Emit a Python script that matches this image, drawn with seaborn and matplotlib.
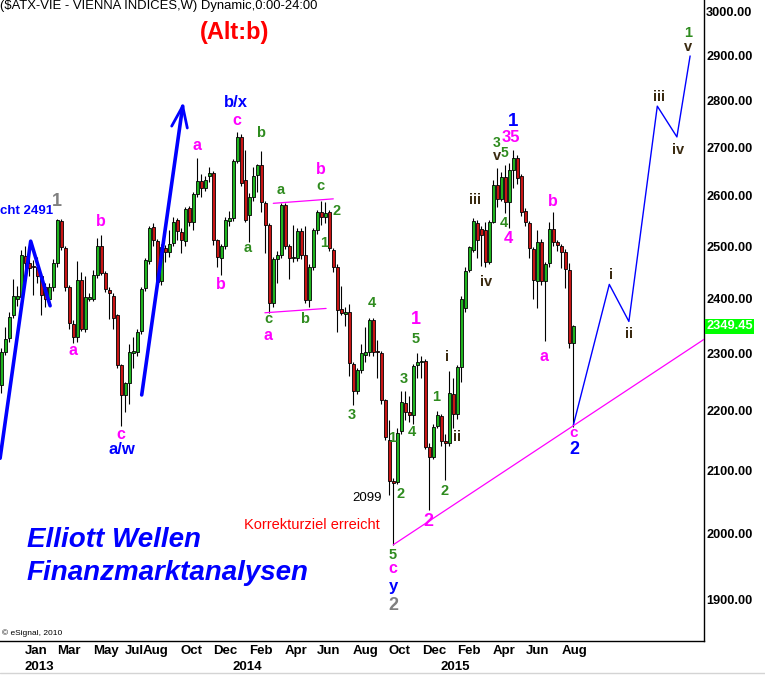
import numpy as np
import pandas as pd
import seaborn as sns
import matplotlib.pyplot as plt
from matplotlib.transforms import blended_transform_factory
from matplotlib.lines import Line2D
from matplotlib.ticker import NullLocator

sns.set_theme(style='white')
plt.rcParams['font.family'] = ['Liberation Sans', 'DejaVu Sans']

# weekly ATX candles, first bar = week of 26 Nov 2012
opens = [2244, 2303, 2328, 2370, 2400, 2404, 2481, 2468, 2462, 2460, 2442, 2423, 2400, 2422, 2468, 2550,
         2496, 2422, 2353, 2329, 2436, 2345, 2400, 2400, 2445, 2500, 2449, 2416, 2405, 2370, 2280, 2227,
         2248, 2300, 2302, 2340, 2420, 2472, 2537, 2511, 2433, 2496, 2488, 2506, 2551, 2528, 2510, 2576,
         2547, 2603, 2630, 2616, 2640, 2647, 2512, 2477, 2500, 2550, 2555, 2672, 2722, 2632, 2562, 2598,
         2643, 2663, 2586, 2542, 2392, 2475, 2483, 2582, 2500, 2478, 2478, 2529, 2483, 2398, 2461, 2531,
         2567, 2558, 2567, 2493, 2461, 2381, 2372, 2375, 2281, 2233, 2271, 2298, 2303, 2360, 2304, 2301,
         2218, 2150, 2083, 2081, 2165, 2213, 2198, 2193, 2280, 2285, 2287, 2138, 2122, 2174, 2190, 2148,
         2145, 2229, 2195, 2276, 2382, 2455, 2493, 2546, 2533, 2531, 2470, 2548, 2623, 2594, 2638, 2588,
         2653, 2678, 2640, 2570, 2546, 2494, 2434, 2509, 2434, 2467, 2533, 2509, 2500, 2489, 2454, 2318]
highs = [2310, 2348, 2376, 2437, 2424, 2492, 2500, 2490, 2474, 2480, 2448, 2430, 2430, 2475, 2553, 2553,
         2500, 2425, 2360, 2472, 2450, 2442, 2410, 2454, 2516, 2522, 2452, 2423, 2410, 2372, 2282, 2250,
         2317, 2330, 2345, 2423, 2478, 2540, 2545, 2515, 2505, 2502, 2532, 2558, 2556, 2535, 2577, 2580,
         2608, 2677, 2645, 2640, 2660, 2650, 2515, 2505, 2558, 2570, 2676, 2732, 2728, 2695, 2605, 2660,
         2666, 2693, 2590, 2545, 2480, 2490, 2586, 2586, 2505, 2542, 2535, 2535, 2540, 2465, 2536, 2572,
         2590, 2588, 2572, 2497, 2465, 2424, 2385, 2390, 2285, 2275, 2317, 2348, 2365, 2365, 2324, 2305,
         2220, 2184, 2088, 2170, 2233, 2233, 2225, 2282, 2300, 2295, 2290, 2145, 2178, 2200, 2195, 2160,
         2268, 2256, 2280, 2405, 2460, 2500, 2555, 2552, 2540, 2547, 2552, 2632, 2657, 2648, 2663, 2667,
         2695, 2685, 2645, 2575, 2550, 2498, 2532, 2515, 2470, 2548, 2568, 2512, 2505, 2495, 2467, 2352]
lows = [2231, 2298, 2320, 2365, 2386, 2400, 2442, 2442, 2407, 2430, 2370, 2385, 2388, 2415, 2460, 2492,
        2415, 2345, 2318, 2320, 2340, 2338, 2395, 2395, 2440, 2445, 2412, 2362, 2344, 2275, 2173, 2198,
        2211, 2274, 2295, 2335, 2415, 2465, 2500, 2425, 2425, 2470, 2480, 2500, 2512, 2487, 2500, 2540,
        2532, 2598, 2598, 2610, 2628, 2502, 2460, 2445, 2495, 2540, 2550, 2668, 2620, 2548, 2509, 2590,
        2608, 2568, 2487, 2374, 2385, 2430, 2478, 2495, 2438, 2470, 2472, 2475, 2392, 2384, 2455, 2525,
        2542, 2545, 2490, 2451, 2338, 2370, 2350, 2260, 2210, 2228, 2265, 2285, 2296, 2296, 2256, 2212,
        2150, 2060, 1982, 2078, 2160, 2184, 2180, 2178, 2256, 2256, 2135, 2037, 2118, 2170, 2140, 2085,
        2140, 2170, 2185, 2250, 2375, 2450, 2488, 2477, 2462, 2461, 2465, 2545, 2578, 2590, 2566, 2535,
        2615, 2625, 2560, 2540, 2478, 2400, 2382, 2425, 2323, 2460, 2500, 2490, 2458, 2421, 2310, 2172]
closes = [2303, 2326, 2367, 2405, 2405, 2483, 2468, 2459, 2460, 2442, 2407, 2400, 2422, 2467, 2551, 2499,
          2423, 2355, 2329, 2436, 2345, 2404, 2404, 2445, 2501, 2449, 2418, 2410, 2365, 2280, 2227, 2247,
          2303, 2305, 2339, 2418, 2474, 2535, 2512, 2432, 2499, 2488, 2505, 2548, 2530, 2512, 2574, 2547,
          2603, 2630, 2616, 2632, 2647, 2512, 2480, 2500, 2552, 2556, 2672, 2722, 2627, 2552, 2598, 2641,
          2663, 2588, 2542, 2392, 2475, 2483, 2582, 2500, 2477, 2479, 2529, 2483, 2398, 2461, 2531, 2567,
          2558, 2566, 2496, 2461, 2379, 2373, 2376, 2283, 2233, 2271, 2300, 2303, 2360, 2303, 2302, 2218,
          2156, 2082, 2080, 2162, 2214, 2198, 2193, 2278, 2284, 2287, 2138, 2122, 2172, 2192, 2148, 2145,
          2230, 2195, 2276, 2400, 2453, 2498, 2550, 2512, 2522, 2469, 2548, 2623, 2594, 2639, 2588, 2653,
          2678, 2637, 2568, 2548, 2496, 2435, 2509, 2434, 2465, 2533, 2509, 2503, 2489, 2456, 2318, 2349.45]
last_price = 2349.45

price_ticks = [1900, 2000, 2100, 2200, 2300, 2400, 2500, 2600, 2700, 2800, 2900, 3000]
month_labels = ['Jan', 'Mar', 'May', 'Jul', 'Aug', 'Oct', 'Dec', 'Feb', 'Apr', 'Jun', 'Aug',
                'Oct', 'Dec', 'Feb', 'Apr', 'Jun', 'Aug']
month_weeks = [6, 14, 23, 31, 35.4, 45, 53, 62, 71, 79, 88, 97, 105.2, 114, 123, 131.2, 140.2]
year_labels = ['2013', '2014', '2015']
year_weeks = [6, 58, 110]

# drawn wave counts and projection
proj_weeks = [143, 152, 156.9, 164, 168.9, 172.2]
proj_prices = [2175, 2427, 2358, 2788, 2722, 2899]
trend_weeks = [98, 175.8]
trend_prices = [1982, 2326]
chan_hi_weeks = [68, 83]
chan_hi_prices = [2585, 2594]
chan_lo_weeks = [65.9, 81.2]
chan_lo_prices = [2374, 2382]
left_weeks = [-0.3, 7.35, 12.2]
left_prices = [2120, 2510, 2387]
arrow_weeks = [35.1, 45.35]
arrow_prices = [2227, 2788]
head_weeks = [42.6, 45.35, 46.5]
head_prices = [2745, 2788, 2741]

MAG = '#ff00ff'
GRN = '#2e8b1e'
BLU = '#0000ff'
GRY = '#808080'
DRK = '#3a2a10'

labels = [
    ('b/x', 58.7, 2795, BLU, 12), ('c', 58.9, 2758, MAG, 11.5), ('a', 48.9, 2703, MAG, 11.5),
    ('b', 64.9, 2730, GRN, 10.5), ('1', 13.9, 2588, GRY, 13), ('b', 24.9, 2548, MAG, 11.5),
    ('a', 61.7, 2497, GRN, 10.5), ('b', 54.9, 2426, MAG, 11.5), ('a', 17.9, 2306, MAG, 11.5),
    ('c', 29.9, 2160, MAG, 11.5), ('a/w', 30.1, 2134, BLU, 12), ('a', 69.9, 2611, GRN, 10.5),
    ('b', 79.9, 2653, MAG, 11.5), ('c', 79.9, 2620, GRN, 10.5), ('2', 83.7, 2570, GRN, 10.5),
    ('1', 80.7, 2507, GRN, 10.5), ('c', 66.7, 2363, GRN, 10.5), ('b', 75.9, 2363, GRN, 10.5),
    ('a', 66.7, 2332, MAG, 11.5), ('4', 92.7, 2393, GRN, 10.5), ('1', 103.7, 2361, MAG, 13),
    ('5', 103.7, 2326, GRN, 10.5), ('3', 87.6, 2193, GRN, 10.5), ('3', 100.7, 2254, GRN, 10.5),
    ('i', 111.4, 2293, DRK, 10.5), ('1', 108.7, 2224, GRN, 10.5), ('ii', 113.9, 2155, DRK, 10.5),
    ('1', 97.6, 2153, GRN, 10.5), ('4', 102.6, 2163, GRN, 10.5), ('2', 99.7, 2062, GRN, 10.5),
    ('2', 110.8, 2066, GRN, 10.5), ('2', 106.8, 2018, MAG, 13), ('5', 97.9, 1966, GRN, 10.5),
    ('c', 97.9, 1945, MAG, 11.5), ('y', 98, 1918, BLU, 12), ('2', 97.9, 1890, GRY, 13),
    ('iii', 118.4, 2592, DRK, 10.5), ('iv', 121.2, 2432, DRK, 10.5), ('3', 123.7, 2709, GRN, 10),
    ('v', 123.9, 2682, DRK, 10.5), ('5', 125.9, 2689, GRN, 10), ('35', 127.3, 2721, MAG, 12),
    ('1', 128, 2755, BLU, 13.5), ('4', 125.7, 2546, GRN, 10.5), ('4', 126.7, 2516, MAG, 12),
    ('b', 138, 2588, MAG, 11.5), ('a', 135.7, 2294, MAG, 11.5), ('c', 143, 2162, MAG, 11),
    ('2', 143.2, 2134, BLU, 13), ('i', 152.4, 2445, DRK, 10.5), ('ii', 156.9, 2335, DRK, 10.5),
    ('iii', 164.4, 2808, DRK, 10.5), ('iv', 169.2, 2695, DRK, 10.5), ('v', 171.7, 2920, DRK, 10.5),
    ('1', 171.7, 2951, GRN, 10.5),
]

df = pd.DataFrame({'open': opens, 'high': highs, 'low': lows, 'close': closes})
df['week'] = np.arange(len(df))
df['up'] = df['close'] >= df['open']

fig = plt.figure(figsize=(7.65, 6.76), dpi=100)
ax = fig.add_axes([0, 35 / 676, 704 / 765, 641 / 676])
ax.set_yscale('log')

ax.vlines(df['week'], df['low'], df['high'], color='black', lw=0.8, zorder=2)
body_h = np.maximum((df['close'] - df['open']).abs(), 2.0)
body_b = np.minimum(df['open'], df['close'])
ax.bar(df['week'], body_h, bottom=body_b, width=0.8,
       color=np.where(df['up'], '#1fb41f', '#c81414'), edgecolor='black', linewidth=0.6, zorder=3)

line_kw = dict(sort=False, estimator=None, legend=False, ax=ax)
sns.lineplot(x=proj_weeks, y=proj_prices, color=BLU, lw=1.0, zorder=4, **line_kw)
sns.lineplot(x=trend_weeks, y=trend_prices, color=MAG, lw=0.9, zorder=4, **line_kw)
sns.lineplot(x=chan_hi_weeks, y=chan_hi_prices, color=MAG, lw=0.9, zorder=4, **line_kw)
sns.lineplot(x=chan_lo_weeks, y=chan_lo_prices, color=MAG, lw=0.9, zorder=4, **line_kw)
sns.lineplot(x=left_weeks, y=left_prices, color=BLU, lw=2.6, zorder=4, **line_kw)
sns.lineplot(x=arrow_weeks, y=arrow_prices, color=BLU, lw=2.6, zorder=4, **line_kw)
sns.lineplot(x=head_weeks, y=head_prices, color=BLU, lw=2.0, zorder=4, **line_kw)

for txt, w, p, col, fs in labels:
    ax.text(w, p, txt, color=col, fontsize=fs, fontweight='bold', ha='center', va='center', zorder=5)

ax.text(91.4, 2056, '2099', color='black', fontsize=9.5, ha='center', va='center', zorder=5)
ax.text(77.7, 2012, 'Korrekturziel erreicht', color='#ff0000', fontsize=10.5, ha='center', va='center', zorder=5)
ax.text(-0.3, 2570, 'cht 2491', color=BLU, fontsize=9.5, fontweight='bold', ha='left', va='center', zorder=5)
ax.text(6.4, 1989, 'Elliott Wellen', color=BLU, fontsize=20, fontweight='bold', style='italic',
        ha='left', va='center', zorder=5)
ax.text(6.4, 1939, 'Finanzmarktanalysen', color=BLU, fontsize=20, fontweight='bold', style='italic',
        ha='left', va='center', zorder=5)
ax.text(0.2, 1850, '\u00a9 eSignal, 2010', color='black', fontsize=6, ha='left', va='center', zorder=5)

ax.set_xlim(-0.325, 175.675)
ax.set_ylim(1839, 3028)
ax.set_xticks([])
ax.yaxis.set_minor_locator(NullLocator())
ax.set_yticks(price_ticks)
ax.set_yticklabels([f'{v:.2f}' for v in price_ticks])
ax.yaxis.tick_right()
ax.tick_params(axis='y', length=0, pad=1.5, labelsize=9.2, labelcolor='black')
for lbl in ax.get_yticklabels():
    lbl.set_fontweight('bold')
ax.set_xlabel('')
ax.set_ylabel('')

for side in ['top', 'left']:
    ax.spines[side].set_visible(False)
for side in ['right', 'bottom']:
    ax.spines[side].set_color('black')
    ax.spines[side].set_linewidth(1.0)

tx = blended_transform_factory(ax.transData, ax.transAxes)
for lab, w in zip(month_labels, month_weeks):
    ax.text(w - 0.1, -0.015, lab, transform=tx, ha='left', va='center', fontsize=9.5,
            fontweight='bold', color='black', clip_on=False)
for lab, w in zip(year_labels, year_weeks):
    ax.text(w - 0.1, -0.04, lab, transform=tx, ha='left', va='center', fontsize=9.5,
            fontweight='bold', color='black', clip_on=False)

ty = blended_transform_factory(ax.transAxes, ax.transData)
ax.text(1.003, last_price, f'{last_price:.2f}', transform=ty, ha='left', va='center', fontsize=9.2,
        fontweight='bold', color='white', clip_on=False,
        bbox=dict(boxstyle='square,pad=0.12', fc='#00ff00', ec='none'))

fig.text(0.0, 1 - 6 / 676, '($ATX-VIE - VIENNA INDICES,W) Dynamic,0:00-24:00', ha='left', va='center',
         fontsize=9.4, color='black')
fig.text(235 / 765, 1 - 32 / 676, '(Alt:b)', ha='center', va='center', fontsize=17, fontweight='bold',
         color='#ff0000')
fig.add_artist(Line2D([0, 1], [3 / 676, 3 / 676], color='#d4d4d4', lw=1.0))

fig.savefig('out.png', dpi=100, facecolor='white')
